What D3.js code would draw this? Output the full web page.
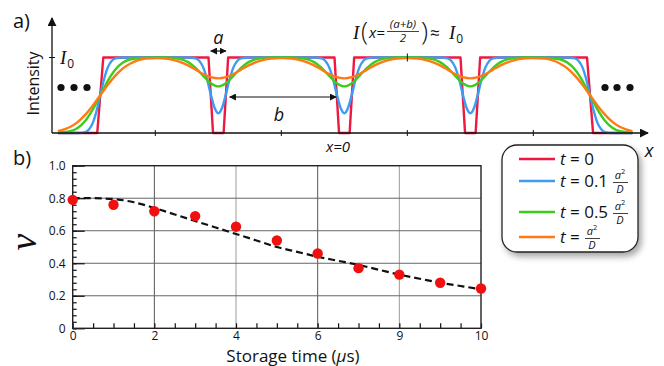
<!DOCTYPE html>
<html>
<head>
<meta charset="utf-8">
<script src="https://cdn.jsdelivr.net/npm/d3@7/dist/d3.min.js"></script>
<style>
  body { margin: 0; background: #fff; }
  text { font-family: "Open Sans", "Noto Sans", sans-serif; fill: #111; }
  .serif { font-family: "Liberation Serif", "DejaVu Serif", serif; font-style: italic; }
</style>
</head>
<body>
<svg id="chart" width="664" height="366"></svg>
<script>
// ---- panel a): intensity profiles, x in units of the period (a+b), a = 0.12
const slitWidth = 0.12;
const dipCenters = [-1, 0, 1];
const edgeLeft = -1.937, edgeRight = 1.95;
const curveNames = ["t0", "t01", "t05", "t1"];
const curveColors = ["#ee1840", "#3c9cf2", "#3ccc1c", "#ff7a14"];

// rising-edge profiles: [offset in units of a, intensity/I0]
const edgeRed = [[-2.8, 0], [-0.2, 0], [0.2, 1], [3, 1]];
const edgeBlue = [[-2.8, 0], [-1.5, 0], [-1, 0.012], [-0.75, 0.047], [-0.5, 0.131], [-0.25, 0.288], [0, 0.5],
  [0.25, 0.712], [0.5, 0.869], [0.75, 0.953], [1, 0.988], [1.5, 1], [3, 1]];
const edgeGreen = [[-2.8, 0.004], [-2, 0.023], [-1.5, 0.067], [-1, 0.16], [-0.5, 0.31], [0, 0.5],
  [0.5, 0.69], [1, 0.84], [1.5, 0.933], [2, 0.977], [3, 0.997]];
const edgeOrange = [[-2.8, 0.025], [-2, 0.079], [-1.5, 0.144], [-1, 0.24], [-0.5, 0.362], [0, 0.5],
  [0.5, 0.638], [1, 0.76], [1.5, 0.856], [2, 0.921], [3, 0.985]];

// dip profiles around each dark line: [offset from centre in units of a, intensity/I0]
const dipRed = [[-0.65, 1], [-0.35, 0], [0.35, 0], [0.65, 1]];
const dipBlue = [[-2, 1], [-1.5, 0.988], [-1.25, 0.953], [-1, 0.869], [-0.75, 0.715], [-0.5, 0.512], [-0.25, 0.335],
  [0, 0.262], [0.25, 0.335], [0.5, 0.512], [0.75, 0.715], [1, 0.869], [1.25, 0.953], [1.5, 0.988], [2, 1]];
const dipGreen = [[-3.5, 1], [-3, 0.994], [-2.5, 0.978], [-2, 0.939], [-1.5, 0.863], [-1, 0.757], [-0.5, 0.66],
  [0, 0.617], [0.5, 0.66], [1, 0.757], [1.5, 0.863], [2, 0.939], [2.5, 0.978], [3, 0.994], [3.5, 1]];
const dipOrange = [[-4, 0.992], [-3.5, 0.985], [-3, 0.968], [-2.5, 0.938], [-2, 0.895], [-1.5, 0.839], [-1, 0.782],
  [-0.5, 0.74], [0, 0.724], [0.5, 0.74], [1, 0.782], [1.5, 0.839], [2, 0.895], [2.5, 0.938], [3, 0.968],
  [3.5, 0.985], [4, 0.992]];

const edgeProfiles = [edgeRed, edgeBlue, edgeGreen, edgeOrange];
const dipProfiles = [dipRed, dipBlue, dipGreen, dipOrange];
const windowTicks = [-1.5, -0.5, 0.5, 1.5];

// ---- panel b): visibility vs storage time
const storageTime = [0, 1, 2, 3, 4, 5, 6, 7, 8, 9, 10];
const visibility = [0.79, 0.76, 0.72, 0.69, 0.625, 0.54, 0.46, 0.37, 0.33, 0.28, 0.245];
const fitTime = [0, 0.5, 1, 1.5, 2, 2.5, 3, 3.5, 4, 4.5, 5, 5.5, 6, 6.5, 7, 7.5, 8, 8.5, 9, 9.5, 10];
const fitVisibility = [0.8, 0.8, 0.795, 0.775, 0.74, 0.7, 0.66, 0.62, 0.58, 0.54, 0.5, 0.47, 0.44, 0.415,
  0.39, 0.36, 0.33, 0.305, 0.28, 0.26, 0.24];
const xTickValues = [0, 2, 4, 6, 8, 10];
const xTickLabels = ["0", "2", "4", "6", "9", "10"];
const yTickValues = [0, 0.2, 0.4, 0.6, 0.8, 1.0];
const yTickLabels = ["0", "0.2", "0.4", "0.6", "0.8", "1.0"];

const svg = d3.select("#chart");
const defs = svg.append("defs");
defs.append("marker").attr("id", "axisHead").attr("viewBox", "0 0 10 10").attr("refX", 9).attr("refY", 5)
  .attr("markerWidth", 9).attr("markerHeight", 9).attr("markerUnits", "userSpaceOnUse").attr("orient", "auto")
  .append("path").attr("d", "M0,0L10,5L0,10Z").attr("fill", "#111");
defs.append("marker").attr("id", "smallHead").attr("viewBox", "0 0 10 10").attr("refX", 9).attr("refY", 5)
  .attr("markerWidth", 7).attr("markerHeight", 7).attr("markerUnits", "userSpaceOnUse").attr("orient", "auto-start-reverse")
  .append("path").attr("d", "M0,0L10,5L0,10Z").attr("fill", "#111");
const shadow = defs.append("filter").attr("id", "shadow").attr("x", "-20%").attr("y", "-20%").attr("width", "150%").attr("height", "150%");
shadow.append("feDropShadow").attr("dx", 3).attr("dy", 4).attr("stdDeviation", 3)
  .attr("flood-color", "#000").attr("flood-opacity", 0.35);

// ================= panel a =================
const xTop = d3.scaleLinear().domain([-2.32, 2.41]).range([52, 648]);
const yTop = d3.scaleLinear().domain([0, 1]).range([133, 57.5]);

svg.append("text").attr("x", 13).attr("y", 28).attr("font-size", 20).text("a)");

// build each curve from its edge and dip profiles
function buildCurve(i) {
  const pts = [];
  edgeProfiles[i].forEach(([d, v]) => pts.push([edgeLeft + d * slitWidth, v]));
  dipCenters.forEach(c => dipProfiles[i].forEach(([u, v]) => pts.push([c + u * slitWidth, v])));
  edgeProfiles[i].slice().reverse().forEach(([d, v]) => pts.push([edgeRight - d * slitWidth, v]));
  return pts;
}

const topLine = d3.line().x(d => xTop(d[0])).y(d => yTop(d[1]));
curveNames.forEach((name, i) => {
  svg.append("path").datum(buildCurve(i))
    .attr("fill", "none").attr("stroke", curveColors[i]).attr("stroke-width", 2.4)
    .attr("stroke-linejoin", "round")
    .attr("d", topLine.curve(i === 0 ? d3.curveLinear : d3.curveMonotoneX));
});

// axes with arrows
svg.append("line").attr("x1", xTop.range()[0]).attr("x2", xTop.range()[1]).attr("y1", yTop(0)).attr("y2", yTop(0))
  .attr("stroke", "#111").attr("stroke-width", 1.3).attr("marker-end", "url(#axisHead)");
svg.append("line").attr("x1", xTop.range()[0]).attr("x2", xTop.range()[0]).attr("y1", yTop(0)).attr("y2", 18)
  .attr("stroke", "#111").attr("stroke-width", 1.3).attr("marker-end", "url(#axisHead)");
svg.append("g").selectAll("line").data(windowTicks).join("line")
  .attr("x1", d => xTop(d)).attr("x2", d => xTop(d)).attr("y1", yTop(0) - 3).attr("y2", yTop(0) + 3)
  .attr("stroke", "#111").attr("stroke-width", 1);
svg.append("line").attr("x1", xTop(0.5)).attr("x2", xTop(0.5)).attr("y1", yTop(1) - 4).attr("y2", yTop(1) + 4)
  .attr("stroke", "#111").attr("stroke-width", 1);
svg.append("line").attr("x1", xTop.range()[0] - 3).attr("x2", xTop.range()[0] + 3).attr("y1", yTop(1)).attr("y2", yTop(1))
  .attr("stroke", "#111").attr("stroke-width", 1);

svg.append("text").attr("transform", `translate(39,${(yTop(0) + 18) / 2 + 8}) rotate(-90)`)
  .attr("text-anchor", "middle").attr("font-size", 16).text("Intensity");
const i0 = svg.append("text").attr("x", 60).attr("y", 64).attr("class", "serif").attr("font-size", 19);
i0.append("tspan").text("I");
i0.append("tspan").attr("dy", 4).attr("dx", 1).attr("font-size", 12).attr("font-style", "normal")
  .attr("font-family", "Open Sans").text("0");
svg.append("text").attr("x", 649).attr("y", 157).attr("font-size", 18).attr("font-style", "italic")
  .attr("text-anchor", "middle").text("x");

// ellipsis dots
[[61, 74, 87], [605, 617, 630]].forEach(xs => {
  svg.append("g").selectAll("circle").data(xs).join("circle")
    .attr("cx", d => d).attr("cy", 87.5).attr("r", 3.6).attr("fill", "#111");
});

// a and b annotations
svg.append("line").attr("x1", xTop(-1 - slitWidth / 2)).attr("x2", xTop(-1 + slitWidth / 2)).attr("y1", 51).attr("y2", 51)
  .attr("stroke", "#111").attr("stroke-width", 1.2)
  .attr("marker-start", "url(#smallHead)").attr("marker-end", "url(#smallHead)");
svg.append("text").attr("x", xTop(-1)).attr("y", 44).attr("text-anchor", "middle").attr("font-size", 18)
  .attr("font-style", "italic").text("a");
svg.append("line").attr("x1", xTop(-1 + 0.09)).attr("x2", xTop(-0.065)).attr("y1", 97).attr("y2", 97)
  .attr("stroke", "#111").attr("stroke-width", 1.2)
  .attr("marker-start", "url(#smallHead)").attr("marker-end", "url(#smallHead)");
svg.append("text").attr("x", 279).attr("y", 121).attr("text-anchor", "middle").attr("font-size", 18)
  .attr("font-style", "italic").text("b");
svg.append("text").attr("x", 338).attr("y", 152).attr("text-anchor", "middle").attr("font-size", 15)
  .attr("font-style", "italic").text("x=0");

// I(x=(a+b)/2) ≈ I0
const eq = svg.append("g");
eq.append("text").attr("x", 353).attr("y", 39).attr("class", "serif").attr("font-size", 19).text("I");
eq.append("text").attr("x", 361).attr("y", 40).attr("font-size", 26).attr("font-weight", 300).text("(");
eq.append("text").attr("x", 369).attr("y", 38).attr("font-size", 15).attr("font-style", "italic").text("x=");
eq.append("text").attr("x", 403).attr("y", 28).attr("font-size", 11.5).attr("text-anchor", "middle")
  .attr("font-style", "italic").text("(a+b)");
eq.append("line").attr("x1", 387).attr("x2", 419).attr("y1", 31.5).attr("y2", 31.5).attr("stroke", "#111").attr("stroke-width", 0.8);
eq.append("text").attr("x", 403).attr("y", 42).attr("font-size", 11.5).attr("text-anchor", "middle")
  .attr("font-style", "italic").text("2");
eq.append("text").attr("x", 421).attr("y", 40).attr("font-size", 26).attr("font-weight", 300).text(")");
eq.append("text").attr("x", 430).attr("y", 39).attr("font-size", 17).text("≈");
const i0b = eq.append("text").attr("x", 449).attr("y", 39).attr("class", "serif").attr("font-size", 19);
i0b.append("tspan").text("I");
i0b.append("tspan").attr("dy", 4).attr("dx", 1).attr("font-size", 12).attr("font-style", "normal")
  .attr("font-family", "Open Sans").text("0");

// ================= panel b =================
const xB = d3.scaleLinear().domain([0, 10]).range([72.7, 481]);
const yB = d3.scaleLinear().domain([0, 1]).range([328.3, 165.7]);

svg.append("text").attr("x", 13).attr("y", 165).attr("font-size", 20).text("b)");

// grid
svg.append("g").selectAll("line").data([2, 4, 6, 8]).join("line")
  .attr("x1", d => xB(d)).attr("x2", d => xB(d)).attr("y1", yB(0)).attr("y2", yB(1))
  .attr("stroke", (d, i) => i % 2 ? "#9a9a9a" : "#555").attr("stroke-width", 1);
svg.append("g").selectAll("line").data([0.2, 0.4, 0.6, 0.8]).join("line")
  .attr("x1", xB(0)).attr("x2", xB(10)).attr("y1", d => yB(d)).attr("y2", d => yB(d))
  .attr("stroke", "#666").attr("stroke-width", 1);

// axes
const yAxis = svg.append("g").attr("transform", `translate(${xB(0)},0)`)
  .call(d3.axisLeft(yB).tickValues(yTickValues).tickFormat((d, i) => yTickLabels[i]).tickSize(-12).tickPadding(7));
const yMinor = svg.append("g").attr("transform", `translate(${xB(0)},0)`)
  .call(d3.axisLeft(yB).tickValues(d3.range(0, 1.001, 0.04)).tickFormat("").tickSize(-4));
const xAxis = svg.append("g").attr("transform", `translate(0,${yB(0)})`)
  .call(d3.axisBottom(xB).tickValues(xTickValues).tickFormat((d, i) => xTickLabels[i]).tickSize(0).tickPadding(3));
const xMinor = svg.append("g").attr("transform", `translate(0,${yB(0)})`)
  .call(d3.axisBottom(xB).tickValues(d3.range(0, 10.01, 0.5)).tickFormat("").tickSize(-5));
[yMinor, xMinor].forEach(g => g.selectAll("text").remove());
[yAxis, yMinor, xAxis, xMinor].forEach(g => {
  g.select(".domain").remove();
  g.selectAll("line").attr("stroke", "#111").attr("stroke-width", 1.2);
  g.selectAll("text").attr("font-size", 12).attr("font-family", "Open Sans").attr("fill", "#222");
});
svg.append("rect").attr("x", xB(0)).attr("y", yB(1)).attr("width", xB(10) - xB(0)).attr("height", yB(0) - yB(1))
  .attr("fill", "none").attr("stroke", "#222").attr("stroke-width", 1.4);

// fit curve and data
const fitLine = d3.line().x((d, i) => xB(fitTime[i])).y(d => yB(d)).curve(d3.curveMonotoneX);
svg.append("path").datum(fitVisibility).attr("fill", "none").attr("stroke", "#111")
  .attr("stroke-width", 2.2).attr("stroke-dasharray", "7,4").attr("d", fitLine);
svg.append("g").selectAll("circle").data(visibility).join("circle")
  .attr("cx", (d, i) => xB(storageTime[i])).attr("cy", d => yB(d)).attr("r", 5.2).attr("fill", "#f01010");

const xTitle = svg.append("text").attr("x", 293).attr("y", 362).attr("text-anchor", "middle").attr("font-size", 17);
xTitle.append("tspan").text("Storage time (");
xTitle.append("tspan").attr("font-style", "italic").text("μ");
xTitle.append("tspan").text("s)");
svg.append("text").attr("transform", "translate(36,242) rotate(-90)").attr("text-anchor", "middle")
  .attr("class", "serif").attr("font-size", 38).text("ν");

// ================= legend =================
const lg = svg.append("g");
lg.append("rect").attr("x", 502).attr("y", 145).attr("width", 136).attr("height", 107).attr("rx", 15)
  .attr("fill", "#fff").attr("stroke", "#222").attr("stroke-width", 1.3).attr("filter", "url(#shadow)");
const legendY = [159, 181, 212, 237];
const legendCoef = ["0", "0.1", "0.5", ""];
curveNames.forEach((name, i) => {
  const y = legendY[i];
  lg.append("line").attr("x1", 519).attr("x2", 555).attr("y1", y).attr("y2", y)
    .attr("stroke", curveColors[i]).attr("stroke-width", 2.4);
  const t = lg.append("text").attr("x", 560).attr("y", y + 6).attr("font-size", 17);
  t.append("tspan").attr("font-style", "italic").text("t");
  t.append("tspan").text(" = " + legendCoef[i]);
  if (i > 0) {
    const fx = i === 3 ? 592 : 620;
    lg.append("text").attr("x", fx).attr("y", y - 2).attr("text-anchor", "middle").attr("font-size", 11)
      .attr("font-style", "italic").text("a")
      .append("tspan").attr("dy", -5).attr("font-size", 7.5).attr("font-style", "normal").text("2");
    lg.append("line").attr("x1", fx - 7).attr("x2", fx + 8).attr("y1", y + 1.5).attr("y2", y + 1.5)
      .attr("stroke", "#111").attr("stroke-width", 0.8);
    lg.append("text").attr("x", fx).attr("y", y + 11.5).attr("text-anchor", "middle").attr("font-size", 11)
      .attr("font-style", "italic").text("D");
  }
});
</script>
</body>
</html>
